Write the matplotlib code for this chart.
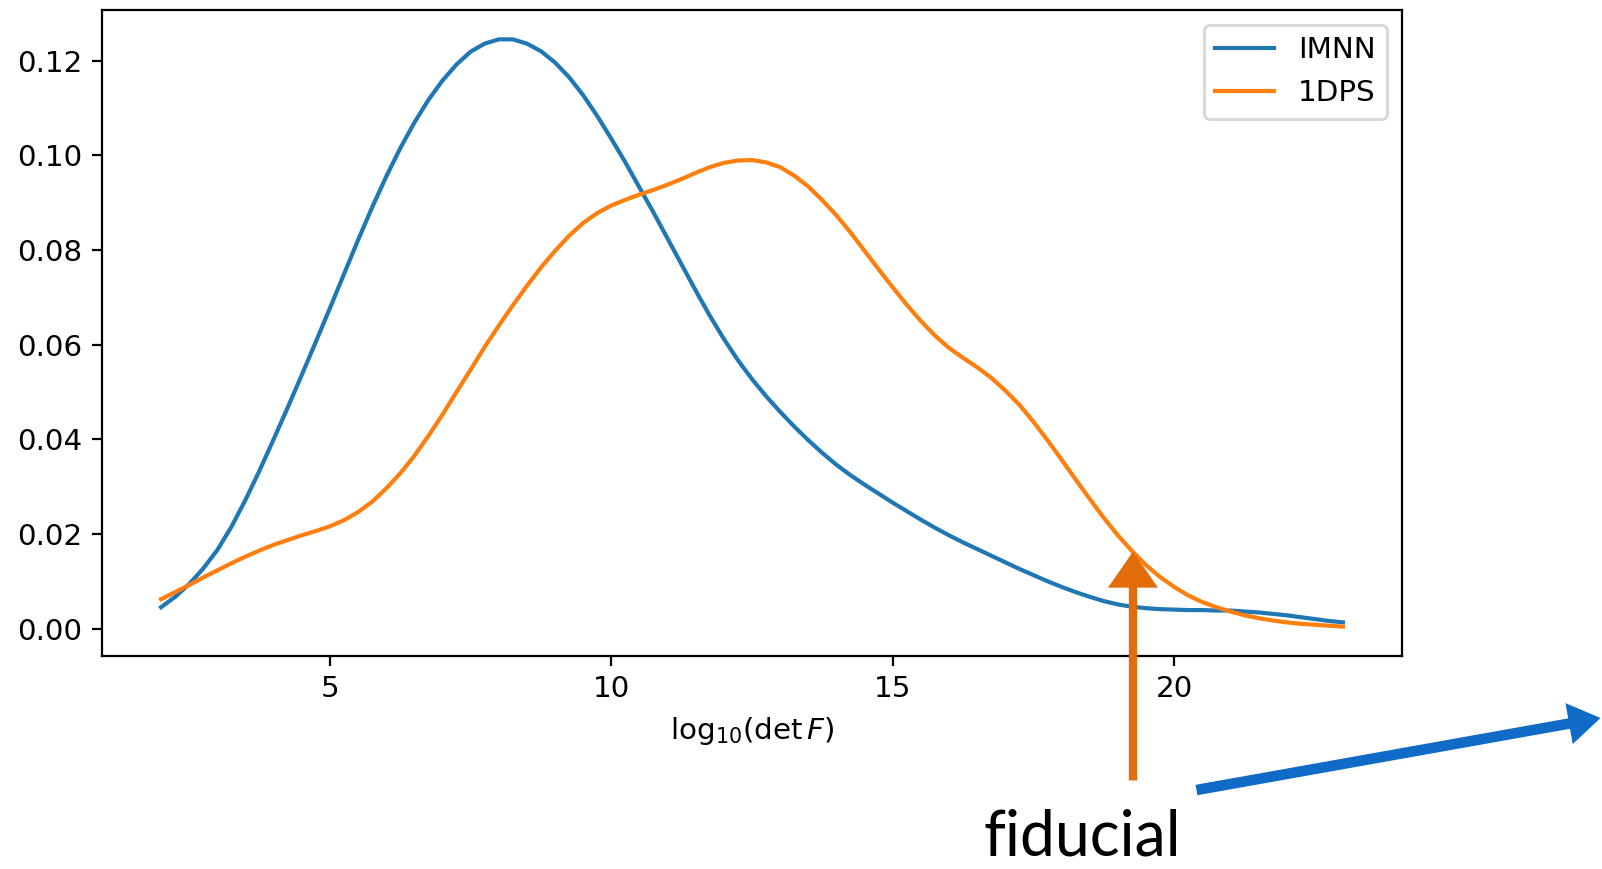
import matplotlib
matplotlib.use("Agg")
import matplotlib.pyplot as plt
from matplotlib.patches import FancyArrowPatch

# log10(det F) grid and densities
x_grid = [2.00, 2.25, 2.50, 2.75, 3.00, 3.25, 3.50, 3.75, 4.00, 4.25, 4.50,
          4.75, 5.00, 5.25, 5.50, 5.75, 6.00, 6.25, 6.50, 6.75, 7.00, 7.25,
          7.50, 7.75, 8.00, 8.25, 8.50, 8.75, 9.00, 9.25, 9.50, 9.75, 10.00,
          10.25, 10.50, 10.75, 11.00, 11.25, 11.50, 11.75, 12.00, 12.25,
          12.50, 12.75, 13.00, 13.25, 13.50, 13.75, 14.00, 14.25, 14.50,
          14.75, 15.00, 15.25, 15.50, 15.75, 16.00, 16.25, 16.50, 16.75,
          17.00, 17.25, 17.50, 17.75, 18.00, 18.25, 18.50, 18.75, 19.00,
          19.25, 19.50, 19.75, 20.00, 20.25, 20.50, 20.75, 21.00, 21.25,
          21.50, 21.75, 22.00, 22.25, 22.50, 22.75, 23.00]

y_imnn = [0.0045, 0.0067, 0.0094, 0.0127, 0.0166, 0.0215, 0.0272, 0.0334,
          0.0400, 0.0467, 0.0536, 0.0606, 0.0677, 0.0749, 0.0821, 0.0890,
          0.0955, 0.1015, 0.1069, 0.1117, 0.1158, 0.1192, 0.1219, 0.1236,
          0.1245, 0.1245, 0.1236, 0.1220, 0.1196, 0.1165, 0.1127, 0.1083,
          0.1035, 0.0985, 0.0932, 0.0879, 0.0824, 0.0769, 0.0714, 0.0661,
          0.0612, 0.0567, 0.0527, 0.0491, 0.0458, 0.0427, 0.0398, 0.0371,
          0.0346, 0.0324, 0.0304, 0.0285, 0.0266, 0.0248, 0.0230, 0.0213,
          0.0197, 0.0182, 0.0168, 0.0154, 0.0140, 0.0126, 0.0113, 0.0100,
          0.0088, 0.0077, 0.0067, 0.0058, 0.0051, 0.0046, 0.0043, 0.0041,
          0.0040, 0.0039, 0.0039, 0.0038, 0.0038, 0.0036, 0.0034, 0.0031,
          0.0028, 0.0024, 0.0020, 0.0016, 0.0013]

y_1dps = [0.0062, 0.0077, 0.0092, 0.0108, 0.0123, 0.0138, 0.0152, 0.0165,
          0.0177, 0.0187, 0.0197, 0.0206, 0.0216, 0.0229, 0.0246, 0.0268,
          0.0296, 0.0328, 0.0365, 0.0407, 0.0452, 0.0500, 0.0547, 0.0595,
          0.0640, 0.0683, 0.0724, 0.0763, 0.0798, 0.0830, 0.0857, 0.0878,
          0.0894, 0.0906, 0.0917, 0.0927, 0.0938, 0.0950, 0.0963, 0.0975,
          0.0984, 0.0989, 0.0990, 0.0985, 0.0975, 0.0957, 0.0934, 0.0905,
          0.0873, 0.0837, 0.0798, 0.0759, 0.0721, 0.0684, 0.0650, 0.0619,
          0.0593, 0.0572, 0.0552, 0.0530, 0.0503, 0.0473, 0.0437, 0.0398,
          0.0357, 0.0315, 0.0274, 0.0234, 0.0197, 0.0164, 0.0134, 0.0109,
          0.0088, 0.0070, 0.0056, 0.0045, 0.0036, 0.0028, 0.0022, 0.0017,
          0.0013, 0.0010, 0.0008, 0.0006, 0.0004]

labels = ["IMNN", "1DPS"]
xlabel = r"$\mathrm{log}_{10}(\det F)$"
annot_text = "fiducial"

W, H = 1602, 869
FS = 10.6
fig = plt.figure(figsize=(W / 200, H / 200), dpi=200)
ax = fig.add_axes([102 / W, 1 - 656 / H, (1402 - 102) / W, (656 - 10) / H])

ax.plot(x_grid, y_imnn, color="#1f77b4", lw=1.5, label=labels[0])
ax.plot(x_grid, y_1dps, color="#ff7f0e", lw=1.5, label=labels[1])
ax.set_xticks([5, 10, 15, 20])
ax.set_yticks([0.0, 0.02, 0.04, 0.06, 0.08, 0.10, 0.12])
ax.tick_params(labelsize=FS)
ax.set_xlabel(xlabel, fontsize=FS)
ax.legend(loc="upper right", fontsize=FS)

# hand-drawn style annotations (overlay in figure pixels)
def fx(px):
    return px / W

def fy(py):
    return 1 - py / H

a1 = FancyArrowPatch((fx(1133), fy(786)), (fx(1133), fy(546)),
                     transform=fig.transFigure,
                     arrowstyle="simple,head_width=18,head_length=13,tail_width=3",
                     mutation_scale=1, color="#E36C0A", lw=0)
fig.add_artist(a1)
a2 = FancyArrowPatch((fx(1191), fy(791)), (fx(1606), fy(717)),
                     transform=fig.transFigure,
                     arrowstyle="simple,head_width=15,head_length=11.5,tail_width=3.8",
                     mutation_scale=1, color="#0F6BC6", lw=0)
fig.add_artist(a2)

fig.text(fx(984), fy(856), annot_text, fontsize=22.5, family=["Lato", "DejaVu Sans"],
         va="baseline", ha="left", color="black")

fig.savefig("out.png", dpi=200)
